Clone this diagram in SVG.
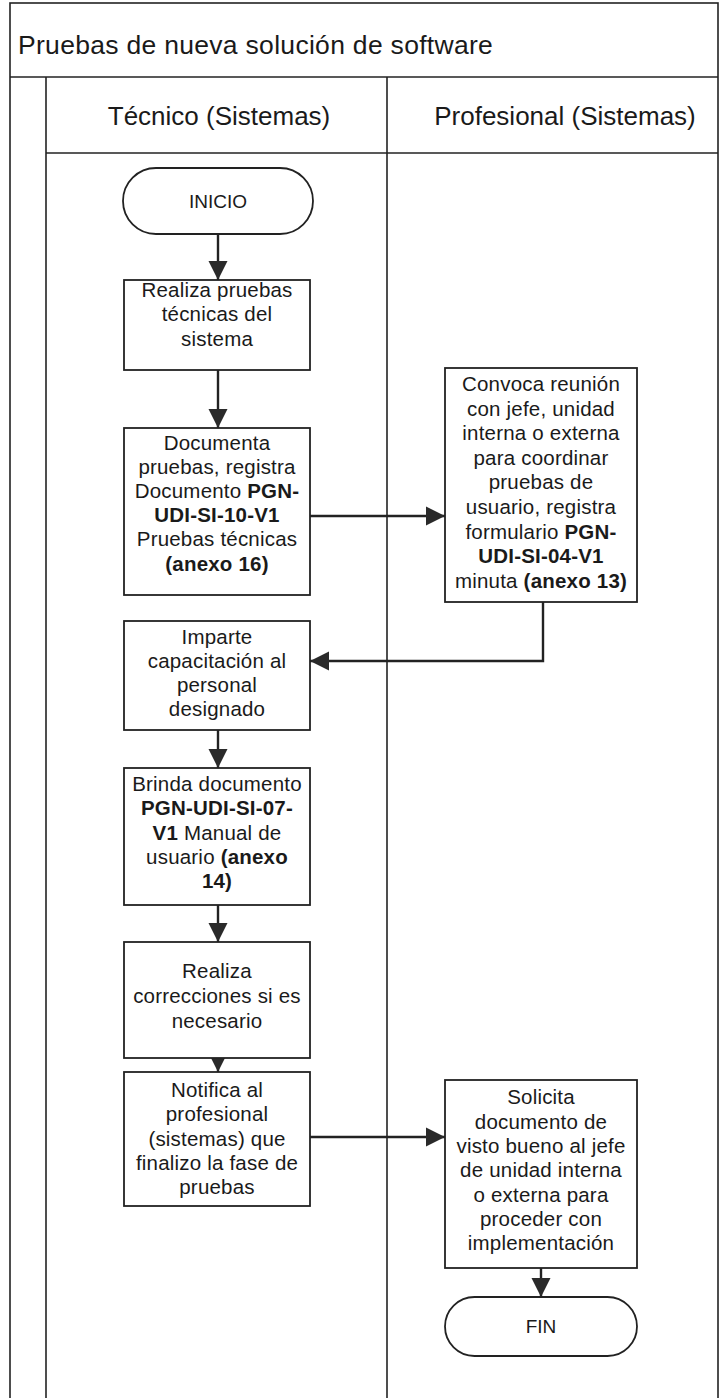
<svg xmlns="http://www.w3.org/2000/svg" width="720" height="1398" viewBox="0 0 720 1398">
  <style>
    .frame { fill: none; stroke: #222; stroke-width: 1.6; }
    .box { fill: #fff; stroke: #222; stroke-width: 1.8; }
    .conn { fill: none; stroke: #222; stroke-width: 2.4; }
    text { font-family: "Liberation Sans", Arial, sans-serif; fill: #1a1a1a; }
    .title { font-size: 26.5px; letter-spacing: 0.3px; }
    .lane { font-size: 26px; text-anchor: middle; }
    .t { font-size: 20.5px; text-anchor: middle; letter-spacing: 0.2px; }
    .term { font-size: 19px; text-anchor: middle; }
    .b { font-weight: bold; }
  </style>
  <defs>
    <marker id="arrow" markerUnits="userSpaceOnUse" markerWidth="19" markerHeight="20" viewBox="0 0 19 20" refX="19" refY="10" orient="auto">
      <path d="M0,0.5 L19,10 L0,19.5 Z" fill="#2a2a2a"/>
    </marker>
  </defs>
  <rect width="720" height="1398" fill="#fff"/>

  <!-- Pool frame, title row and lanes -->
  <g id="pool">
    <rect class="frame" x="10" y="3" width="708" height="1400"/>
    <line class="frame" x1="10" y1="77" x2="718" y2="77"/>
    <line class="frame" x1="46" y1="77" x2="46" y2="1398"/>
    <line class="frame" x1="387" y1="77" x2="387" y2="1398"/>
    <line class="frame" x1="46" y1="153" x2="718" y2="153"/>
    <text class="title" x="18" y="54">Pruebas de nueva solución de software</text>
    <text class="lane" x="219" y="125">Técnico (Sistemas)</text>
    <text class="lane" x="565" y="125">Profesional (Sistemas)</text>
  </g>

  <!-- Connectors -->
  <g id="connectors">
    <line class="conn" x1="218" y1="234" x2="218" y2="280" marker-end="url(#arrow)"/>
    <line class="conn" x1="218" y1="370" x2="218" y2="428" marker-end="url(#arrow)"/>
    <line class="conn" x1="310" y1="516" x2="445" y2="516" marker-end="url(#arrow)"/>
    <polyline class="conn" points="543,602 543,661 310,661" marker-end="url(#arrow)"/>
    <line class="conn" x1="218" y1="730" x2="218" y2="768" marker-end="url(#arrow)"/>
    <line class="conn" x1="218" y1="905" x2="218" y2="942" marker-end="url(#arrow)"/>
    <line class="conn" x1="218" y1="1058" x2="218" y2="1072" marker-end="url(#arrow)"/>
    <line class="conn" x1="310" y1="1137" x2="445" y2="1137" marker-end="url(#arrow)"/>
    <line class="conn" x1="541" y1="1268" x2="541" y2="1297" marker-end="url(#arrow)"/>
  </g>

  <g id="inicio">
    <rect class="box" x="123" y="168" width="190" height="66" rx="33"/>
    <text class="term" x="218" y="208">INICIO</text>
  </g>

  <g id="pruebas-tecnicas">
    <rect class="box" x="124" y="280" width="186" height="90"/>
    <text class="t" x="217" y="297">Realiza pruebas</text>
    <text class="t" x="217" y="321">técnicas del</text>
    <text class="t" x="217" y="346">sistema</text>
  </g>

  <g id="documenta">
    <rect class="box" x="124" y="428" width="186" height="167"/>
    <text class="t" x="217" y="450">Documenta</text>
    <text class="t" x="217" y="474">pruebas,  registra</text>
    <text class="t" x="217" y="498">Documento <tspan class="b">PGN-</tspan></text>
    <text class="t b" x="217" y="522">UDI-SI-10-V1</text>
    <text class="t" x="217" y="546">Pruebas técnicas</text>
    <text class="t b" x="217" y="571">(anexo 16)</text>
  </g>

  <g id="convoca">
    <rect class="box" x="445" y="368" width="192" height="234"/>
    <text class="t" x="541" y="391">Convoca reunión</text>
    <text class="t" x="541" y="416">con jefe, unidad</text>
    <text class="t" x="541" y="440">interna o externa</text>
    <text class="t" x="541" y="465">para coordinar</text>
    <text class="t" x="541" y="489">pruebas de</text>
    <text class="t" x="541" y="514">usuario, registra</text>
    <text class="t" x="541" y="539">formulario <tspan class="b">PGN-</tspan></text>
    <text class="t b" x="541" y="563">UDI-SI-04-V1</text>
    <text class="t" x="541" y="588">minuta <tspan class="b">(anexo 13)</tspan></text>
  </g>

  <g id="capacitacion">
    <rect class="box" x="124" y="621" width="186" height="109"/>
    <text class="t" x="217" y="644">Imparte</text>
    <text class="t" x="217" y="668">capacitación al</text>
    <text class="t" x="217" y="692">personal</text>
    <text class="t" x="217" y="716">designado</text>
  </g>

  <g id="manual">
    <rect class="box" x="124" y="768" width="186" height="137"/>
    <text class="t" x="217" y="791">Brinda documento</text>
    <text class="t b" x="217" y="815">PGN-UDI-SI-07-</text>
    <text class="t" x="217" y="840"><tspan class="b">V1</tspan> Manual de</text>
    <text class="t" x="217" y="864">usuario <tspan class="b">(anexo</tspan></text>
    <text class="t b" x="217" y="888">14)</text>
  </g>

  <g id="correcciones">
    <rect class="box" x="124" y="942" width="186" height="116"/>
    <text class="t" x="217" y="978">Realiza</text>
    <text class="t" x="217" y="1003">correcciones si es</text>
    <text class="t" x="217" y="1028">necesario</text>
  </g>

  <g id="notifica">
    <rect class="box" x="124" y="1072" width="186" height="134"/>
    <text class="t" x="217" y="1097">Notifica al</text>
    <text class="t" x="217" y="1121">profesional</text>
    <text class="t" x="217" y="1146">(sistemas) que</text>
    <text class="t" x="217" y="1170">finalizo la fase de</text>
    <text class="t" x="217" y="1194">pruebas</text>
  </g>

  <g id="solicita">
    <rect class="box" x="445" y="1080" width="192" height="188"/>
    <text class="t" x="541" y="1104">Solicita</text>
    <text class="t" x="541" y="1129">documento de</text>
    <text class="t" x="541" y="1153">visto bueno al jefe</text>
    <text class="t" x="541" y="1177">de unidad interna</text>
    <text class="t" x="541" y="1202">o externa para</text>
    <text class="t" x="541" y="1226">proceder con</text>
    <text class="t" x="541" y="1250">implementación</text>
  </g>

  <g id="fin">
    <rect class="box" x="445" y="1297" width="192" height="59" rx="29.5"/>
    <text class="term" x="541" y="1333">FIN</text>
  </g>
</svg>
